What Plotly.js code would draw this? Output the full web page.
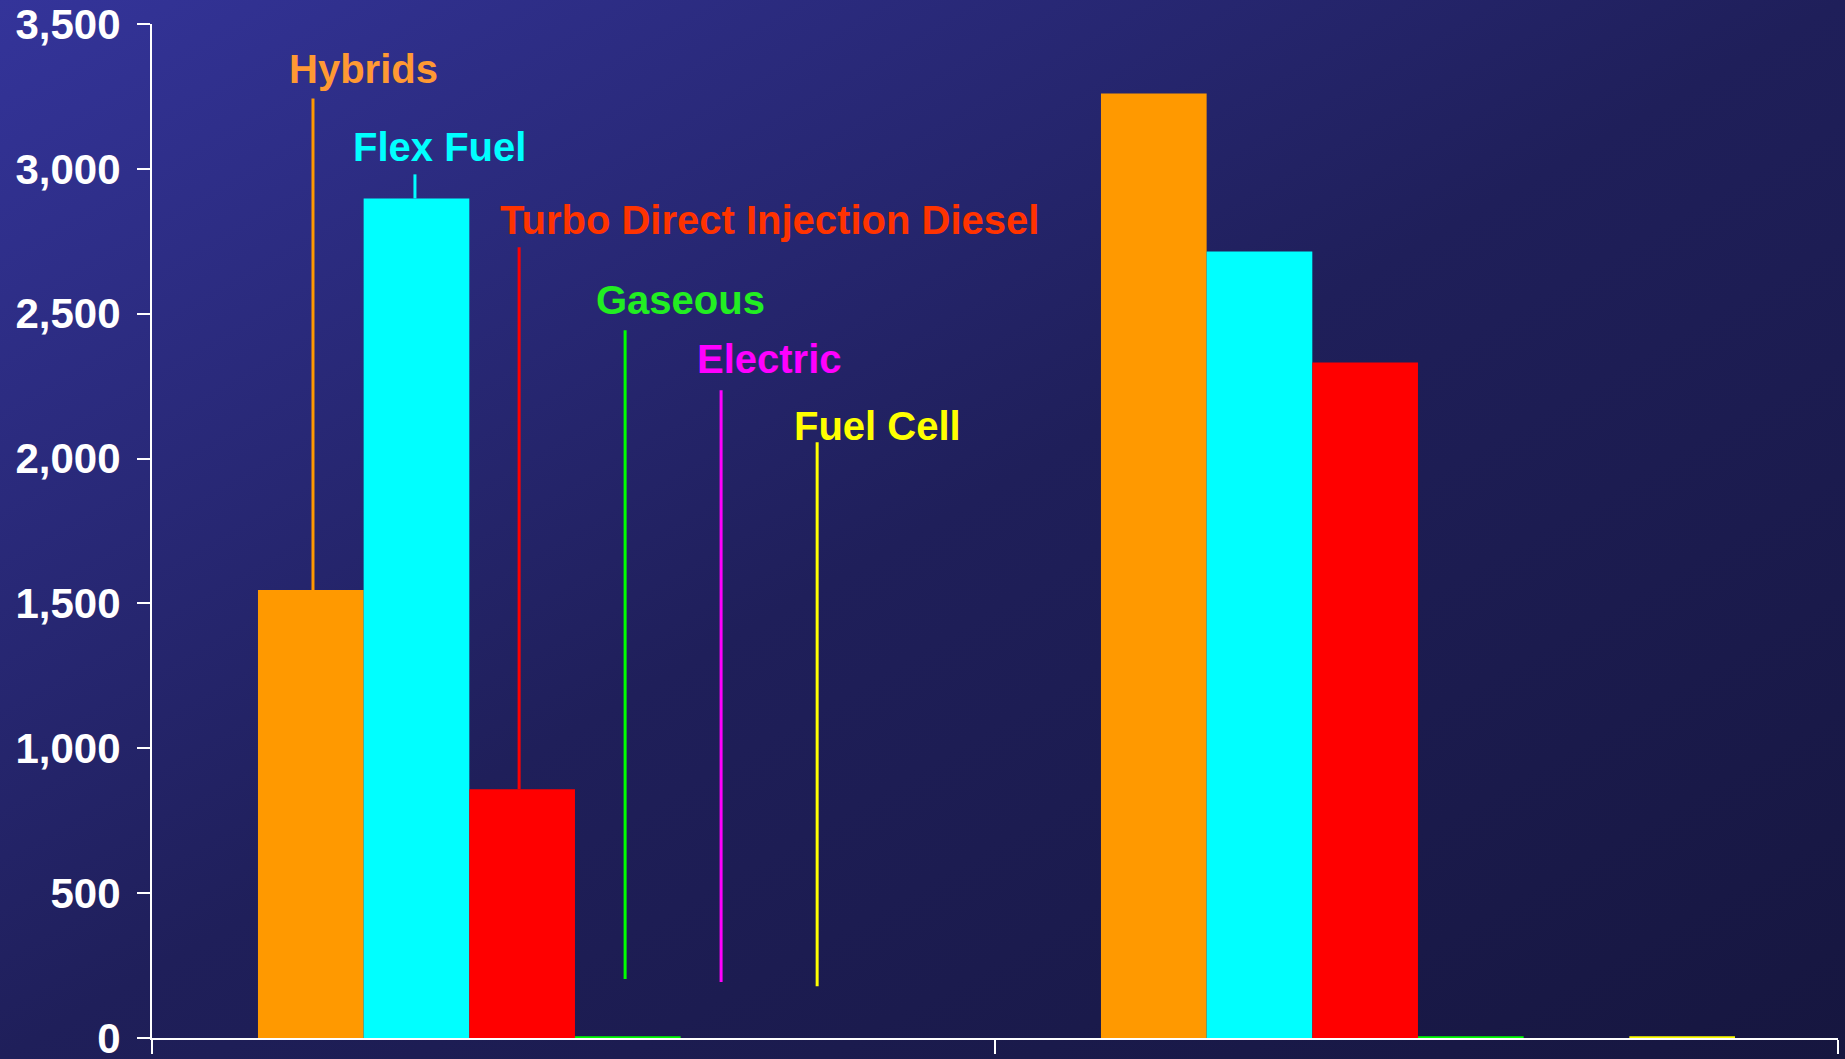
<!DOCTYPE html>
<html>
<head>
<meta charset="utf-8">
<script src="https://cdn.plot.ly/plotly-3.0.1.min.js"></script>
<style>
  html, body { margin: 0; padding: 0; }
  body {
    width: 1845px; height: 1059px; overflow: hidden;
    background: linear-gradient(to bottom right, #34349a 0%, #1f1f5a 50%, #16163f 100%);
  }
  #chart { width: 1845px; height: 1059px; }
</style>
</head>
<body>
<div id="chart"></div>
<script>
// Two periods of vehicle sales by powertrain technology
const categories = ['Period 1', 'Period 2'];

const seriesNames = ['Hybrids', 'Flex Fuel', 'Turbo Direct Injection Diesel', 'Gaseous', 'Electric', 'Fuel Cell'];
const hybrids     = [1546, 3260];
const flexFuel    = [2898, 2715];
const turboDiesel = [859, 2332];
const gaseous     = [6, 6];
const electric    = [0, 0];
const fuelCell    = [0, 6];

const seriesValues = [hybrids, flexFuel, turboDiesel, gaseous, electric, fuelCell];
const barColors   = ['#FF9900', '#00FFFF', '#FF0000', '#00FF00', '#FF00FF', '#FFFF00'];
const labelColors = ['#FF9933', '#00FFFF', '#FF3300', '#22EE22', '#FF00FF', '#FFFF00'];

// bar geometry in category units (one category = 1)
const barWidth = 0.12535;
const groupStart = -0.3743;
const barLeft = i => groupStart + i * barWidth;
const barCenter = i => barLeft(i) + barWidth / 2;

const traces = seriesNames.map((name, i) => ({
  type: 'bar',
  name: name,
  x: categories,
  y: seriesValues[i],
  width: barWidth,
  offset: barLeft(i),
  marker: { color: barColors[i], line: { width: 0 } },
  hovertemplate: name + ': %{y:,}<extra></extra>'
}));

// Callout placement for each series label (first group)
const callouts = [
  { dx: 0.062, textY: 3343, lineTop: 3243, lineBottom: null, nudge: 0.0026 },
  { dx: 0.027, textY: 3074, lineTop: 2981, lineBottom: null, nudge: -0.0018 },
  { dx: 0.293, textY: 2822, lineTop: 2729, lineBottom: null, nudge: -0.0036 },
  { dx: 0.062, textY: 2546, lineTop: 2443, lineBottom: 204, nudge: -0.0032 },
  { dx: 0.0425, textY: 2342, lineTop: 2236, lineBottom: 193, nudge: -0.0147 },
  { dx: 0.046, textY: 2111, lineTop: 2056, lineBottom: 179, nudge: -0.0261 }
];

const labelFont = { family: 'Liberation Sans, Arial, sans-serif', size: 40, weight: 700 };

const annotations = callouts.map((c, i) => ({
  xref: 'x', yref: 'y',
  x: barCenter(i) + c.dx, y: c.textY,
  text: seriesNames[i],
  showarrow: false,
  xanchor: 'center', yanchor: 'middle',
  font: Object.assign({ color: labelColors[i] }, labelFont)
}));

const shapes = callouts.map((c, i) => ({
  type: 'line', xref: 'x', yref: 'y',
  x0: barCenter(i) + c.nudge, x1: barCenter(i) + c.nudge,
  y0: c.lineBottom === null ? seriesValues[i][0] : c.lineBottom,
  y1: c.lineTop,
  line: { color: barColors[i], width: 3 }
}));

const layout = {
  width: 1845, height: 1059,
  margin: { l: 152, r: 7, t: 24, b: 21, pad: 0 },
  paper_bgcolor: 'rgba(0,0,0,0)',
  plot_bgcolor: 'rgba(0,0,0,0)',
  barmode: 'overlay',
  showlegend: false,
  font: { family: 'Liberation Sans, Arial, sans-serif', color: '#FFFFFF' },
  xaxis: {
    type: 'category',
    range: [-0.5, 1.5],
    showticklabels: false,
    showgrid: false, zeroline: false,
    showline: true, linecolor: '#FFFFFF', linewidth: 2,
    ticks: 'outside', tickson: 'boundaries', ticklen: 14, tickwidth: 2, tickcolor: '#FFFFFF'
  },
  yaxis: {
    range: [0, 3500], dtick: 500, tickformat: ',',
    showgrid: false, zeroline: false,
    showline: true, linecolor: '#FFFFFF', linewidth: 2,
    ticks: 'outside', ticklen: 13, tickwidth: 2, tickcolor: '#FFFFFF',
    ticklabelstandoff: 8,
    ticklabeloverflow: 'allow',
    tickfont: { family: 'Liberation Sans, Arial, sans-serif', size: 42, weight: 700, color: '#FFFFFF' }
  },
  annotations: annotations,
  shapes: shapes
};

Plotly.newPlot('chart', traces, layout, { displayModeBar: false, staticPlot: true });
</script>
</body>
</html>
